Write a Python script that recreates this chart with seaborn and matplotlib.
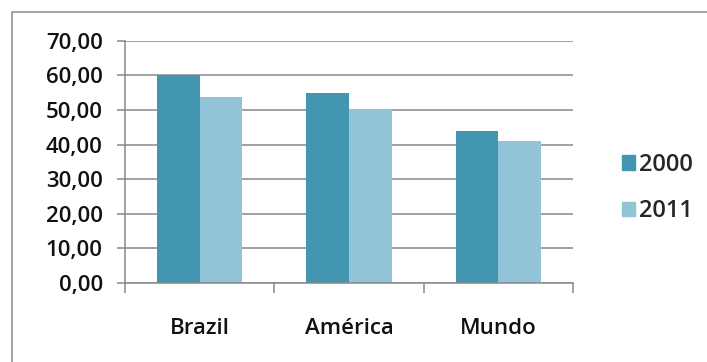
import matplotlib
matplotlib.use('Agg')
import matplotlib.pyplot as plt
import matplotlib.patches as mpatches
from matplotlib.ticker import FuncFormatter, MultipleLocator
import seaborn as sns
import pandas as pd

# data
regioes = ['Brazil', 'América', 'Mundo']
anos = ['2000', '2011']
v2000 = [60.0, 55.0, 43.8]
v2011 = [53.8, 50.2, 41.0]
cores = ['#4296b0', '#93c3d6']

df = pd.DataFrame({
    'regiao': regioes * 2,
    'ano': [anos[0]] * 3 + [anos[1]] * 3,
    'valor': v2000 + v2011,
})

sns.set_style('white')
plt.rcParams['font.family'] = ['Open Sans', 'DejaVu Sans']
plt.rcParams['font.weight'] = 'semibold'

fig = plt.figure(figsize=(7.07, 3.62), dpi=100)
ax = fig.add_axes([125/707, 1-283/362, (573-125)/707, (283-40.7)/362])

sns.barplot(data=df, x='regiao', y='valor', hue='ano', palette=cores,
            width=0.57, gap=0, saturation=1, linewidth=0, ax=ax, legend=False)

ax.set_ylim(0, 70)
ax.set_xlim(-0.5, 2.5)
ax.yaxis.set_major_locator(MultipleLocator(10))
ax.yaxis.set_major_formatter(FuncFormatter(lambda v, p: f'{v:.2f}'.replace('.', ',')))
ax.set_xticks([0, 1, 2])
ax.set_xticklabels(regioes)
ax.set_xticks([-0.5, 0.5, 1.5, 2.5], minor=True)
ax.set_xlabel('')
ax.set_ylabel('')

ax.grid(axis='y', color='#888888', lw=1.1)
ax.set_axisbelow(True)
for s in ['top', 'right']:
    ax.spines[s].set_visible(False)
for s in ['left', 'bottom']:
    ax.spines[s].set_color('#888888')
    ax.spines[s].set_linewidth(1.1)

ax.tick_params(axis='y', which='major', left=True, length=6, width=1.1,
               color='#888888', pad=10, labelsize=16, labelcolor='#111111')
ax.tick_params(axis='x', which='major', bottom=False, pad=22,
               labelsize=16, labelcolor='#111111')
ax.tick_params(axis='x', which='minor', bottom=True, length=7, width=1.1,
               color='#888888')

handles = [mpatches.Patch(color=c, label=a) for c, a in zip(cores, anos)]
fig.legend(handles=handles, loc='center left', bbox_to_anchor=(613/707, 1-188/362),
           frameon=False, fontsize=17, handlelength=0.55, handleheight=0.55,
           handletextpad=0.15, labelspacing=0.95, borderaxespad=0)

# outer chart border (cut off at right and bottom in the reference)
fig.add_artist(mpatches.Rectangle((12/707, -0.1), 1.0, 1.1 - 12/362,
                                  transform=fig.transFigure, fill=False,
                                  edgecolor='#a6a6a6', lw=1.5))

fig.savefig('out.png', dpi=100)
